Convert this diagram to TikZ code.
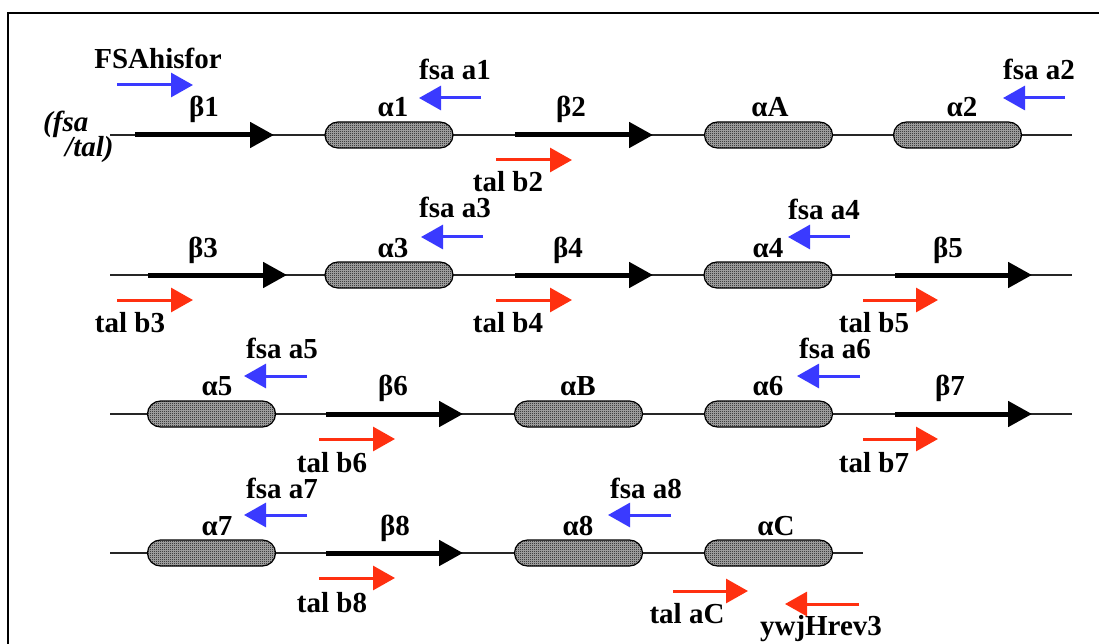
\documentclass[tikz,border=0pt]{standalone}
\usepackage{fontspec}
\setmainfont{Liberation Serif}
\usetikzlibrary{arrows.meta,patterns}
\definecolor{fsablue}{RGB}{58,58,255}
\definecolor{talred}{RGB}{255,48,16}
\pgfdeclarepatternformonly{checker}{\pgfpointorigin}{\pgfpoint{2pt}{2pt}}{\pgfpoint{2pt}{2pt}}{%
  \pgfpathrectangle{\pgfpointorigin}{\pgfpoint{1pt}{1pt}}%
  \pgfpathrectangle{\pgfpoint{1pt}{1pt}}{\pgfpoint{1pt}{1pt}}%
  \pgfusepath{fill}}
\tikzset{
  lbl/.style={font=\bfseries\fontsize{29}{32}\selectfont, inner sep=0pt, anchor=base},
  itl/.style={lbl, anchor=base west, font=\bfseries\itshape\fontsize{29}{32}\selectfont},
  backbone/.style={line width=1.4pt, black!85},
  strand/.style={line width=5pt, -{Triangle[length=24pt,width=25pt]}},
  helix/.style={draw=black, line width=1.2pt, rounded corners=13pt, minimum width=128pt,
    minimum height=26pt, inner sep=0pt, preaction={fill=black!30}, pattern=checker, pattern color=black},
  primer/.style={line width=3pt, -{Triangle[length=22pt,width=24pt]}},
  fsa/.style={primer, fsablue},
  tal/.style={primer, talred}
}
\begin{document}
\begin{tikzpicture}[x=1pt,y=-1pt]
\useasboundingbox (0,0) rectangle (1099,644);
% frame (only top and left edges visible)
\coordinate (fTR) at (1099,13);
\coordinate (fTL) at (8,13);
\coordinate (fBL) at (8,644);
\draw[line width=2.5pt] (fTR) -- (fTL) -- (fBL);

% ---------- Row 1 ----------
\coordinate (r1s) at (110,135); \coordinate (r1e) at (1072,135);
\draw[backbone] (r1s) -- (r1e);
\coordinate (b1s) at (135,135); \coordinate (b1e) at (274,135);
\draw[strand] (b1s) -- (b1e);
\coordinate (b2s) at (515,135); \coordinate (b2e) at (653,135);
\draw[strand] (b2s) -- (b2e);
\node[helix] (a1) at (389,135) {};
\node[helix] (aA) at (768.5,135) {};
\node[helix] (a2) at (957.5,135) {};
\node[lbl] (lb1) at (204,117) {β1};
\node[lbl] (la1) at (393,117) {α1};
\node[lbl] (lb2) at (571,117) {β2};
\node[lbl] (laA) at (770,117) {αA};
\node[lbl] (la2) at (962,117) {α2};
\node[itl] (fsatal1) at (43,132) {(fsa};
\node[itl] (fsatal2) at (65,157) {/tal)};
\node[lbl] (tFSA) at (158,69) {FSAhisfor};
\coordinate (pF1) at (117,85); \coordinate (pF2) at (193,85);
\draw[fsa] (pF1) -- (pF2);
\node[lbl] (tfa1) at (455,80) {fsa a1};
\coordinate (pa1s) at (481,98); \coordinate (pa1e) at (419,98);
\draw[fsa] (pa1s) -- (pa1e);
\node[lbl] (tfa2) at (1039,80) {fsa a2};
\coordinate (pa2s) at (1065,98); \coordinate (pa2e) at (1003,98);
\draw[fsa] (pa2s) -- (pa2e);
\node[lbl] (ttb2) at (508,192) {tal b2};
\coordinate (pb2s) at (496,160); \coordinate (pb2e) at (572,160);
\draw[tal] (pb2s) -- (pb2e);

% ---------- Row 2 ----------
\coordinate (r2s) at (110,275); \coordinate (r2e) at (1072,275);
\draw[backbone] (r2s) -- (r2e);
\coordinate (b3s) at (148,275); \coordinate (b3e) at (287,275);
\draw[strand] (b3s) -- (b3e);
\coordinate (b4s) at (515,275); \coordinate (b4e) at (653,275);
\draw[strand] (b4s) -- (b4e);
\coordinate (b5s) at (895,275); \coordinate (b5e) at (1032,275);
\draw[strand] (b5s) -- (b5e);
\node[helix] (a3) at (389,275) {};
\node[helix] (a4) at (768,275) {};
\node[lbl] (lb3) at (203,257) {β3};
\node[lbl] (la3) at (393,257) {α3};
\node[lbl] (lb4) at (568,257) {β4};
\node[lbl] (la4) at (768,257) {α4};
\node[lbl] (lb5) at (948,257) {β5};
\node[lbl] (tfa3) at (455,218) {fsa a3};
\coordinate (pa3s) at (483,237); \coordinate (pa3e) at (421,237);
\draw[fsa] (pa3s) -- (pa3e);
\node[lbl] (tfa4) at (824,220) {fsa a4};
\coordinate (pa4s) at (850,237); \coordinate (pa4e) at (788,237);
\draw[fsa] (pa4s) -- (pa4e);
\node[lbl] (ttb3) at (130,332) {tal b3};
\coordinate (pb3s) at (117,300); \coordinate (pb3e) at (193,300);
\draw[tal] (pb3s) -- (pb3e);
\node[lbl] (ttb4) at (508,332) {tal b4};
\coordinate (pb4s) at (496,300); \coordinate (pb4e) at (572,300);
\draw[tal] (pb4s) -- (pb4e);
\node[lbl] (ttb5) at (874,332) {tal b5};
\coordinate (pb5s) at (863,300); \coordinate (pb5e) at (938,300);
\draw[tal] (pb5s) -- (pb5e);

% ---------- Row 3 ----------
\coordinate (r3s) at (110,414); \coordinate (r3e) at (1072,414);
\draw[backbone] (r3s) -- (r3e);
\coordinate (b6s) at (326,414); \coordinate (b6e) at (463,414);
\draw[strand] (b6s) -- (b6e);
\coordinate (b7s) at (895,414); \coordinate (b7e) at (1032,414);
\draw[strand] (b7s) -- (b7e);
\node[helix] (a5) at (211.5,414) {};
\node[helix] (aB) at (578.5,414) {};
\node[helix] (a6) at (768.5,414) {};
\node[lbl] (la5) at (217,395) {α5};
\node[lbl] (lb6) at (393,395) {β6};
\node[lbl] (laB) at (578,395) {αB};
\node[lbl] (la6) at (768,395) {α6};
\node[lbl] (lb7) at (950,395) {β7};
\node[lbl] (tfa5) at (282,358) {fsa a5};
\coordinate (pa5s) at (307,376); \coordinate (pa5e) at (244,376);
\draw[fsa] (pa5s) -- (pa5e);
\node[lbl] (tfa6) at (835,358) {fsa a6};
\coordinate (pa6s) at (860,376); \coordinate (pa6e) at (797,376);
\draw[fsa] (pa6s) -- (pa6e);
\node[lbl] (ttb6) at (332,472) {tal b6};
\coordinate (pb6s) at (319,439); \coordinate (pb6e) at (395,439);
\draw[tal] (pb6s) -- (pb6e);
\node[lbl] (ttb7) at (874,472) {tal b7};
\coordinate (pb7s) at (863,439); \coordinate (pb7e) at (938,439);
\draw[tal] (pb7s) -- (pb7e);

% ---------- Row 4 ----------
\coordinate (r4s) at (110,553); \coordinate (r4e) at (863,553);
\draw[backbone] (r4s) -- (r4e);
\coordinate (b8s) at (326,553); \coordinate (b8e) at (463,553);
\draw[strand] (b8s) -- (b8e);
\node[helix] (a7) at (211.5,553) {};
\node[helix] (a8) at (578.5,553) {};
\node[helix] (aC) at (768.5,553) {};
\node[lbl] (la7) at (217,535) {α7};
\node[lbl] (lb8) at (395,535) {β8};
\node[lbl] (la8) at (578,535) {α8};
\node[lbl] (laC) at (776,535) {αC};
\node[lbl] (tfa7) at (282,498) {fsa a7};
\coordinate (pa7s) at (307,515); \coordinate (pa7e) at (244,515);
\draw[fsa] (pa7s) -- (pa7e);
\node[lbl] (tfa8) at (646,498) {fsa a8};
\coordinate (pa8s) at (671,515); \coordinate (pa8e) at (608,515);
\draw[fsa] (pa8s) -- (pa8e);
\node[lbl] (ttb8) at (332,612) {tal b8};
\coordinate (pb8s) at (319,578); \coordinate (pb8e) at (395,578);
\draw[tal] (pb8s) -- (pb8e);
\node[lbl] (ttaC) at (687,623) {tal aC};
\coordinate (paCs) at (673,591); \coordinate (paCe) at (748,591);
\draw[tal] (paCs) -- (paCe);
\node[lbl] (tywj) at (821,635) {ywjHrev3};
\coordinate (pyws) at (859,604); \coordinate (pywe) at (785,604);
\draw[tal] (pyws) -- (pywe);
\end{tikzpicture}
\end{document}
